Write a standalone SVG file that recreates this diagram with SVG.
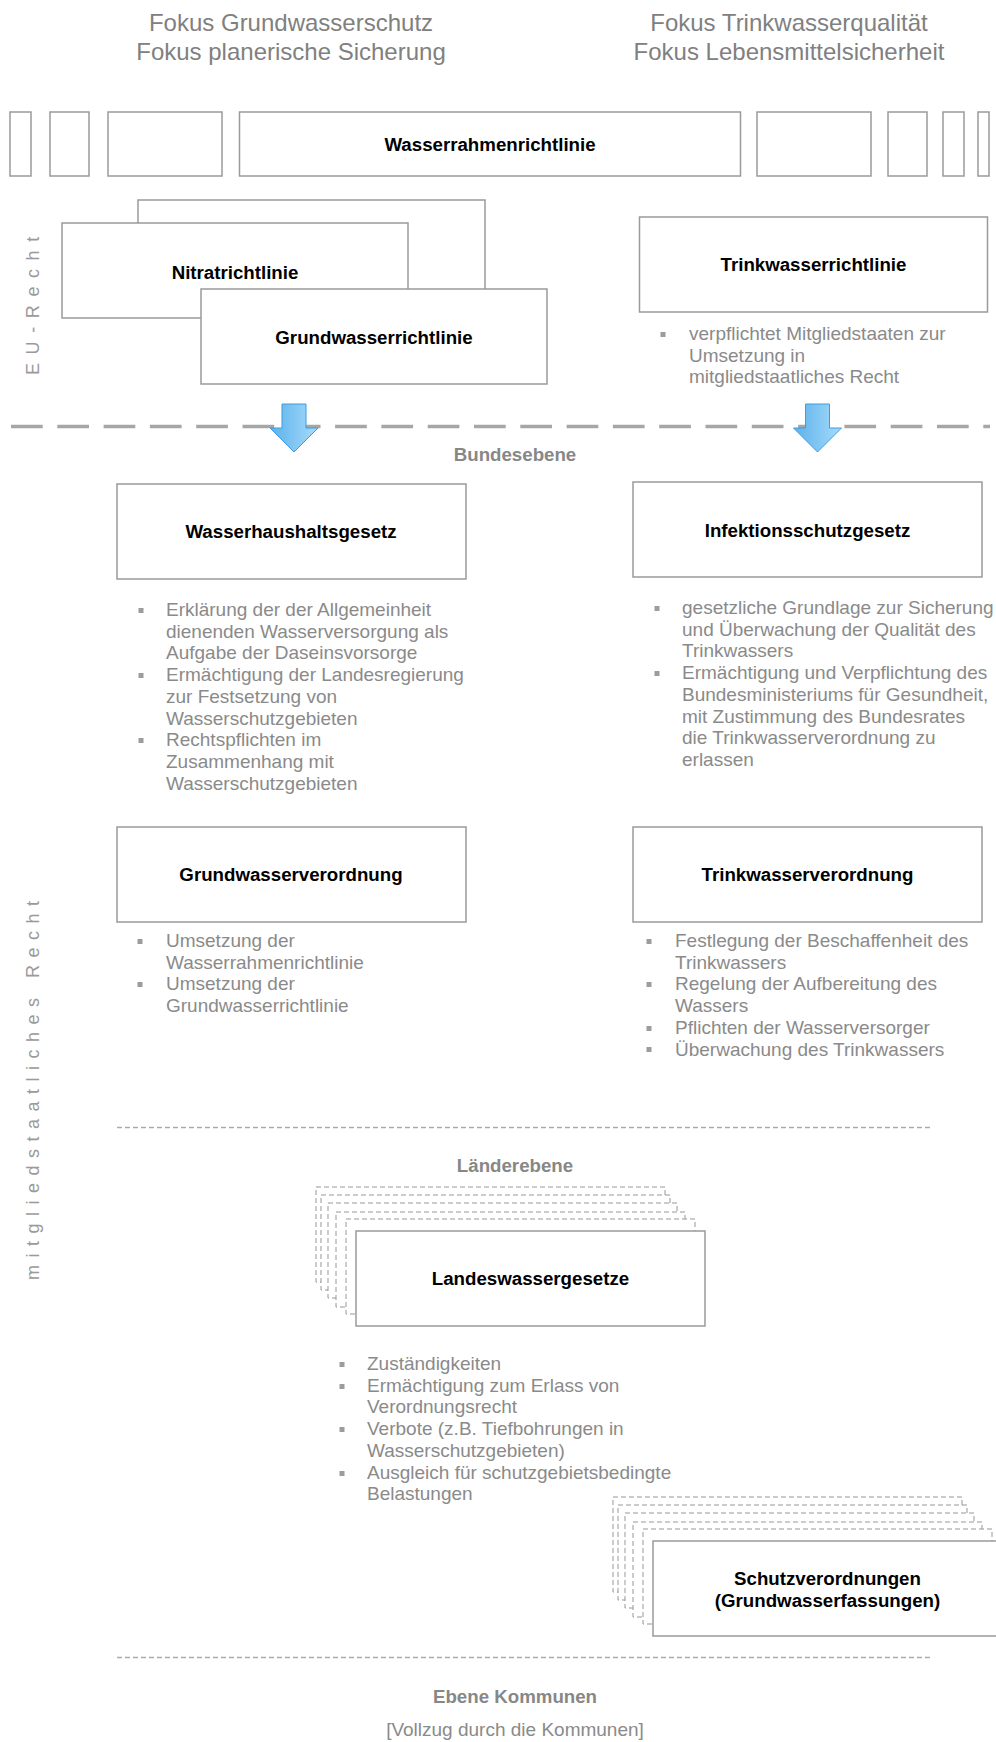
<svg xmlns="http://www.w3.org/2000/svg" width="996" height="1742" viewBox="0 0 996 1742">
  <style>
    .box { fill: #ffffff; stroke: #9a9a9a; stroke-width: 1.5; }
    .dbox { fill: #ffffff; stroke: #979797; stroke-width: 1; stroke-dasharray: 5 3; }
    .title { font-family: "Liberation Sans", Arial, sans-serif; font-size: 18.7px; font-weight: bold; fill: #000000; text-anchor: middle; }
    .head { font-family: "Liberation Sans", Arial, sans-serif; font-size: 24px; fill: #808080; text-anchor: middle; }
    .level { font-family: "Liberation Sans", Arial, sans-serif; font-size: 18.7px; font-weight: bold; fill: #878787; text-anchor: middle; }
    .note { font-family: "Liberation Sans", Arial, sans-serif; font-size: 19px; fill: #8a8a8a; text-anchor: middle; }
    .body { font-family: "Liberation Sans", Arial, sans-serif; font-size: 19px; fill: #8a8a8a; }
    .side { font-family: "Liberation Sans", Arial, sans-serif; font-size: 18px; fill: #9a9a9a; }
    .bul { fill: #9c9c9c; }
    .sep { fill: none; stroke: #ababab; stroke-width: 1.5; stroke-dasharray: 5 3; }
    .arrow { fill: url(#blue); stroke: #3d9be0; stroke-width: 1; }
  </style>
  <defs>
    <linearGradient id="blue" x1="0" y1="0" x2="1" y2="0">
      <stop offset="0" stop-color="#5cb1eb"/>
      <stop offset="1" stop-color="#a6dbfa"/>
    </linearGradient>
  </defs>

  <!-- column headings -->
  <g id="heading-left">
    <text class="head" x="291" y="31">Fokus Grundwasserschutz</text>
    <text class="head" x="291" y="60">Fokus planerische Sicherung</text>
  </g>
  <g id="heading-right">
    <text class="head" x="789" y="31">Fokus Trinkwasserqualität</text>
    <text class="head" x="789" y="60">Fokus Lebensmittelsicherheit</text>
  </g>

  <!-- side labels -->
  <text class="side" x="39" y="375" letter-spacing="8.6" transform="rotate(-90 39 375)">EU-Recht</text>
  <text class="side" x="39" y="1280" letter-spacing="7.5" transform="rotate(-90 39 1280)">mitgliedstaatliches Recht</text>

  <!-- framework directive row -->
  <g id="wrrl-row">
    <rect class="box" x="10" y="112" width="21" height="64"/>
    <rect class="box" x="50" y="112" width="39" height="64"/>
    <rect class="box" x="108" y="112" width="114" height="64"/>
    <rect class="box" x="239.5" y="112" width="501" height="64"/>
    <rect class="box" x="757" y="112" width="114" height="64"/>
    <rect class="box" x="888" y="112" width="39" height="64"/>
    <rect class="box" x="943" y="112" width="21" height="64"/>
    <rect class="box" x="978" y="112" width="11" height="64"/>
    <text class="title" x="490" y="151">Wasserrahmenrichtlinie</text>
  </g>

  <!-- groundwater directives -->
  <g id="nitrat">
    <rect class="box" x="138" y="200" width="347" height="95"/>
    <rect class="box" x="62" y="223" width="346" height="95"/>
    <text class="title" x="235" y="279">Nitratrichtlinie</text>
  </g>
  <g id="grundwasserrichtlinie">
    <rect class="box" x="201" y="289" width="346" height="95"/>
    <text class="title" x="374" y="344">Grundwasserrichtlinie</text>
  </g>

  <!-- drinking water directive -->
  <g id="trinkwasserrichtlinie">
    <rect class="box" x="639.5" y="217" width="348" height="95"/>
    <text class="title" x="813.5" y="271">Trinkwasserrichtlinie</text>
    <rect class="bul" x="660.5" y="332" width="5" height="5"/>
    <text class="body" x="689" y="340">verpflichtet Mitgliedstaaten zur<tspan x="689" dy="21.7">Umsetzung in</tspan><tspan x="689" dy="21.7">mitgliedstaatliches Recht</tspan></text>
  </g>

  <!-- level separators and transition arrows -->
  <g id="connectors">
    <line x1="11" y1="426.5" x2="990" y2="426.5" stroke="#a6a6a6" stroke-width="3.5" stroke-dasharray="31.7 14.6"/>
    <path class="arrow" d="M282 404 H306 V428 H318 L294 452 L270 428 H282 Z"/>
    <path class="arrow" d="M805.5 404 H829.5 V428 H841.5 L817.5 452 L793.5 428 H805.5 Z"/>
    <line class="sep" x1="117" y1="1127.5" x2="933" y2="1127.5"/>
    <line class="sep" x1="117" y1="1657.5" x2="933" y2="1657.5"/>
  </g>

  <text class="level" x="515" y="461">Bundesebene</text>

  <!-- federal water act -->
  <g id="whg">
    <rect class="box" x="117" y="484" width="349" height="95"/>
    <text class="title" x="291" y="538">Wasserhaushaltsgesetz</text>
    <rect class="bul" x="138.5" y="608" width="5" height="5"/>
    <rect class="bul" x="138.5" y="673" width="5" height="5"/>
    <rect class="bul" x="138.5" y="738" width="5" height="5"/>
    <text class="body" x="166" y="616">Erklärung der der Allgemeinheit<tspan x="166" dy="21.7">dienenden Wasserversorgung als</tspan><tspan x="166" dy="21.7">Aufgabe der Daseinsvorsorge</tspan><tspan x="166" dy="21.7">Ermächtigung der Landesregierung</tspan><tspan x="166" dy="21.7">zur Festsetzung von</tspan><tspan x="166" dy="21.7">Wasserschutzgebieten</tspan><tspan x="166" dy="21.7">Rechtspflichten im</tspan><tspan x="166" dy="21.7">Zusammenhang mit</tspan><tspan x="166" dy="21.7">Wasserschutzgebieten</tspan></text>
  </g>

  <!-- infection protection act -->
  <g id="ifsg">
    <rect class="box" x="633" y="482" width="349" height="95"/>
    <text class="title" x="807.5" y="537">Infektionsschutzgesetz</text>
    <rect class="bul" x="654.5" y="606" width="5" height="5"/>
    <rect class="bul" x="654.5" y="671" width="5" height="5"/>
    <text class="body" x="682" y="614">gesetzliche Grundlage zur Sicherung<tspan x="682" dy="21.7">und Überwachung der Qualität des</tspan><tspan x="682" dy="21.7">Trinkwassers</tspan><tspan x="682" dy="21.7">Ermächtigung und Verpflichtung des</tspan><tspan x="682" dy="21.7">Bundesministeriums für Gesundheit,</tspan><tspan x="682" dy="21.7">mit Zustimmung des Bundesrates</tspan><tspan x="682" dy="21.7">die Trinkwasserverordnung zu</tspan><tspan x="682" dy="21.7">erlassen</tspan></text>
  </g>

  <!-- groundwater ordinance -->
  <g id="grwv">
    <rect class="box" x="117" y="827" width="349" height="95"/>
    <text class="title" x="291" y="881">Grundwasserverordnung</text>
    <rect class="bul" x="137.5" y="939" width="5" height="5"/>
    <rect class="bul" x="137.5" y="982" width="5" height="5"/>
    <text class="body" x="166" y="947">Umsetzung der<tspan x="166" dy="21.7">Wasserrahmenrichtlinie</tspan><tspan x="166" dy="21.7">Umsetzung der</tspan><tspan x="166" dy="21.7">Grundwasserrichtlinie</tspan></text>
  </g>

  <!-- drinking water ordinance -->
  <g id="trinkwv">
    <rect class="box" x="633" y="827" width="349" height="95"/>
    <text class="title" x="807.5" y="881">Trinkwasserverordnung</text>
    <rect class="bul" x="646.5" y="939" width="5" height="5"/>
    <rect class="bul" x="646.5" y="982" width="5" height="5"/>
    <rect class="bul" x="646.5" y="1026" width="5" height="5"/>
    <rect class="bul" x="646.5" y="1047" width="5" height="5"/>
    <text class="body" x="675" y="947">Festlegung der Beschaffenheit des<tspan x="675" dy="21.7">Trinkwassers</tspan><tspan x="675" dy="21.7">Regelung der Aufbereitung des</tspan><tspan x="675" dy="21.7">Wassers</tspan><tspan x="675" dy="21.7">Pflichten der Wasserversorger</tspan><tspan x="675" dy="21.7">Überwachung des Trinkwassers</tspan></text>
  </g>

  <text class="level" x="515" y="1172">Länderebene</text>

  <!-- state water acts (stack of laws) -->
  <g id="landeswassergesetze">
    <rect class="dbox" x="316" y="1187" width="349" height="95"/>
    <rect class="dbox" x="321" y="1195" width="349" height="95"/>
    <rect class="dbox" x="328" y="1203" width="349" height="95"/>
    <rect class="dbox" x="336" y="1212" width="349" height="95"/>
    <rect class="dbox" x="346" y="1219" width="349" height="95"/>
    <rect class="box" x="356" y="1231" width="349" height="95"/>
    <text class="title" x="530.5" y="1285">Landeswassergesetze</text>
    <rect class="bul" x="339.5" y="1362" width="5" height="5"/>
    <rect class="bul" x="339.5" y="1384" width="5" height="5"/>
    <rect class="bul" x="339.5" y="1427" width="5" height="5"/>
    <rect class="bul" x="339.5" y="1471" width="5" height="5"/>
    <text class="body" x="367" y="1370">Zuständigkeiten<tspan x="367" dy="21.7">Ermächtigung zum Erlass von</tspan><tspan x="367" dy="21.7">Verordnungsrecht</tspan><tspan x="367" dy="21.7">Verbote (z.B. Tiefbohrungen in</tspan><tspan x="367" dy="21.7">Wasserschutzgebieten)</tspan><tspan x="367" dy="21.7">Ausgleich für schutzgebietsbedingte</tspan><tspan x="367" dy="21.7">Belastungen</tspan></text>
  </g>

  <!-- protection ordinances per well field -->
  <g id="schutzverordnungen">
    <rect class="dbox" x="613" y="1497" width="349" height="95"/>
    <rect class="dbox" x="618" y="1505" width="349" height="95"/>
    <rect class="dbox" x="625" y="1513" width="349" height="95"/>
    <rect class="dbox" x="633" y="1522" width="349" height="95"/>
    <rect class="dbox" x="643" y="1529" width="349" height="95"/>
    <rect class="box" x="653" y="1541" width="349" height="95"/>
    <text class="title" x="827.5" y="1585">Schutzverordnungen<tspan x="827.5" dy="22">(Grundwasserfassungen)</tspan></text>
  </g>

  <!-- municipal level -->
  <g id="kommunen">
    <text class="level" x="515" y="1703">Ebene Kommunen</text>
    <text class="note" x="515" y="1736">[Vollzug durch die Kommunen]</text>
  </g>
</svg>
